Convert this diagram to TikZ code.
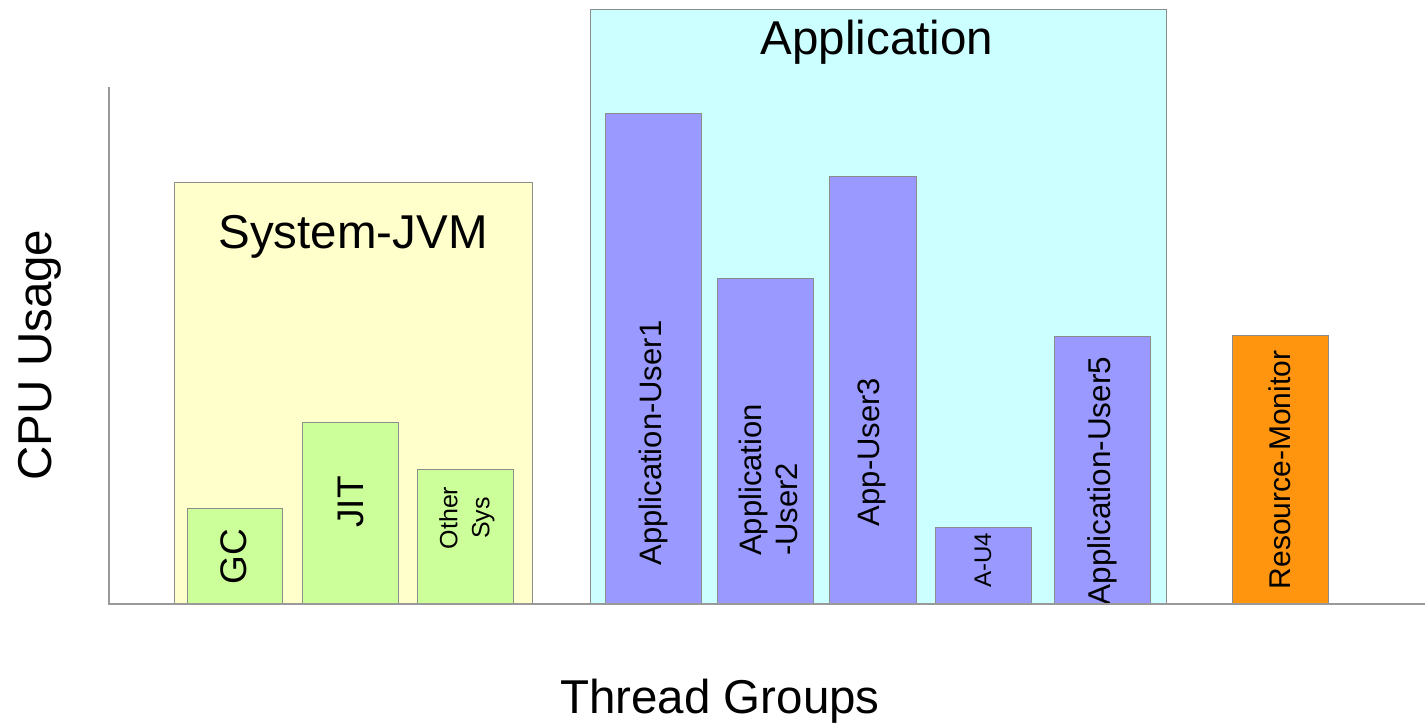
\documentclass[tikz,border=0pt]{standalone}
\usepackage{fontspec}
\setmainfont{Liberation Sans}
\definecolor{jvmyellow}{HTML}{FFFFCC}
\definecolor{appcyan}{HTML}{CCFFFF}
\definecolor{sysgreen}{HTML}{CCFF99}
\definecolor{apppurple}{HTML}{9999FF}
\definecolor{rmorange}{HTML}{FF950E}
\definecolor{edgegray}{HTML}{8C8C8C}
\definecolor{axisgray}{HTML}{999999}
\newcommand{\fs}[2]{\fontsize{#1}{#2}\selectfont}
\tikzset{
  group/.style={draw=edgegray, line width=0.9pt},
  bar/.style={draw=edgegray, line width=0.9pt},
  axis/.style={draw=axisgray, line width=1.2pt},
  vlabel/.style={rotate=90, inner sep=0pt, anchor=center},
  title/.style={inner sep=0pt, anchor=base, font=\fs{47.5}{55}},
}
\begin{document}
\begin{tikzpicture}[x=1pt,y=-1pt]
\useasboundingbox[fill=white] (0,0) rectangle (1425,723);
% group boxes
\path[group, fill=jvmyellow] (174,182) rectangle (532,604);
\path[group, fill=appcyan] (590,9) rectangle (1166,604);
\node[title] (jvmtitle) at (353,248) {System-JVM};
\node[title] (apptitle) at (877,54) {Application};
% system bars
\path[bar, fill=sysgreen] (187,508) rectangle (282,604);
\path[bar, fill=sysgreen] (302,422) rectangle (398,604);
\path[bar, fill=sysgreen] (417,469) rectangle (513,604);
\node[vlabel, font=\fs{37}{42}] (gc) at (234,557) {GC};
\node[vlabel, font=\fs{37}{42}] (jit) at (351,502) {JIT};
\node[vlabel, font=\fs{25}{32}, align=center] (other) at (467,518) {Other\\Sys};
% application bars
\path[bar, fill=apppurple] (605,113) rectangle (701,604);
\path[bar, fill=apppurple] (717,278) rectangle (813,604);
\path[bar, fill=apppurple] (829,176) rectangle (916,604);
\path[bar, fill=apppurple] (935,527) rectangle (1031,604);
\path[bar, fill=apppurple] (1054,336) rectangle (1150,604);
\node[vlabel, font=\fs{31}{36}] (au1) at (653,443) {Application-User1};
\node[vlabel, font=\fs{31}{36}, align=left] (au2) at (768,480) {Application\\-User2};
\node[vlabel, font=\fs{31}{36}] (au3) at (872,452) {App-User3};
\node[vlabel, font=\fs{24}{28}] (au4) at (983,560) {A-U4};
\node[vlabel, font=\fs{31.5}{36}] (au5) at (1102,481) {Application-User5};
% resource monitor
\path[bar, fill=rmorange] (1232,335) rectangle (1328,604);
\node[vlabel, font=\fs{30}{35}] (rm) at (1280,470) {Resource-Monitor};
% axes
\coordinate (ytop) at (109,87);
\coordinate (orig) at (109,604);
\coordinate (xend) at (1425,604);
\draw[axis] (ytop) -- (orig) -- (xend);
% axis labels
\node[title, rotate=90] (ylab) at (51,355) {CPU Usage};
\node[title] (xlab) at (720,713) {Thread Groups};
\end{tikzpicture}
\end{document}
